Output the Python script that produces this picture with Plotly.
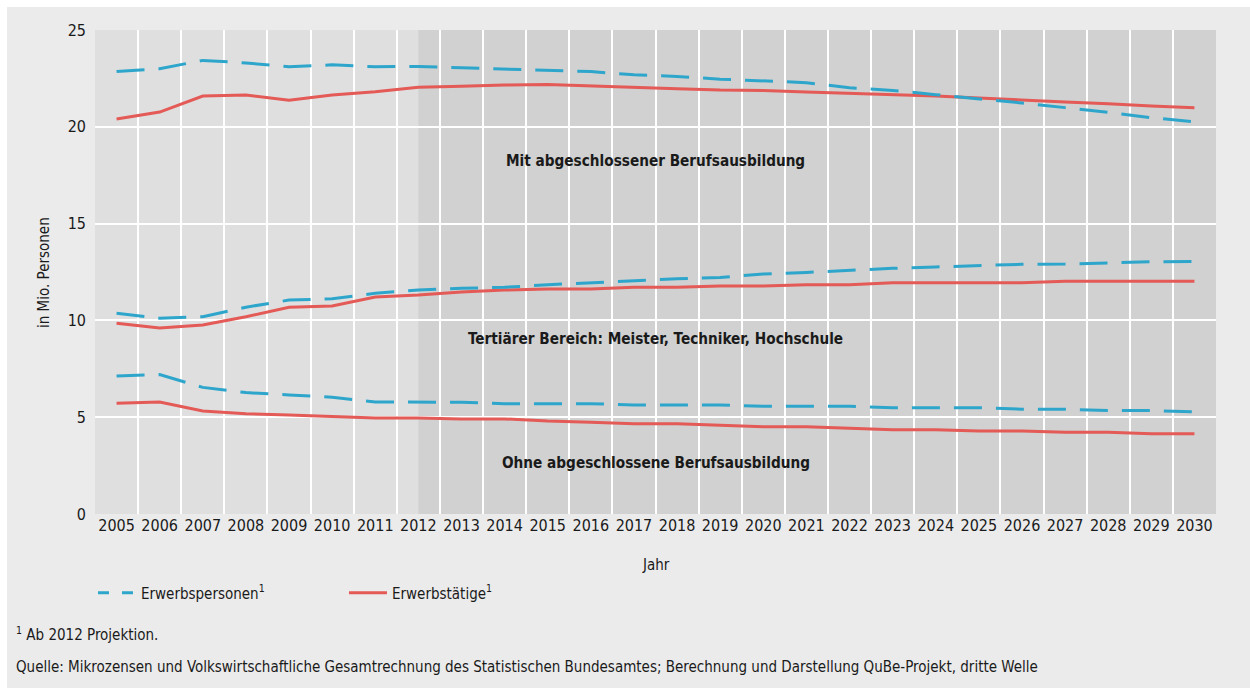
import plotly.graph_objects as go

# Jahre
jahre = list(range(2005, 2031))

# Mit abgeschlossener Berufsausbildung (Mio. Personen)
mit_erwerbspersonen = [22.85, 23.0, 23.43, 23.3, 23.1, 23.2, 23.1, 23.12, 23.05, 22.99,
                       22.9, 22.85, 22.69, 22.6, 22.46, 22.37, 22.28, 22.02, 21.88, 21.66,
                       21.45, 21.23, 20.99, 20.75, 20.47, 20.25]
mit_erwerbstaetige = [20.4, 20.76, 21.59, 21.64, 21.37, 21.64, 21.81, 22.04, 22.1, 22.16,
                      22.18, 22.12, 22.04, 21.97, 21.9, 21.88, 21.8, 21.73, 21.68, 21.59,
                      21.49, 21.37, 21.28, 21.19, 21.07, 20.99]

# Tertiärer Bereich: Meister, Techniker, Hochschule
tert_erwerbspersonen = [10.37, 10.11, 10.19, 10.68, 11.05, 11.12, 11.4, 11.57, 11.66, 11.71,
                        11.84, 11.95, 12.04, 12.15, 12.22, 12.4, 12.48, 12.6, 12.69, 12.76,
                        12.83, 12.9, 12.91, 12.98, 13.03, 13.05]
tert_erwerbstaetige = [9.85, 9.61, 9.76, 10.19, 10.68, 10.74, 11.21, 11.31, 11.47, 11.57,
                       11.62, 11.62, 11.71, 11.71, 11.78, 11.78, 11.84, 11.84, 11.95, 11.95,
                       11.95, 11.95, 12.02, 12.02, 12.02, 12.02]

# Ohne abgeschlossene Berufsausbildung
ohne_erwerbspersonen = [7.13, 7.2, 6.54, 6.27, 6.15, 6.03, 5.79, 5.79, 5.77, 5.7,
                        5.7, 5.7, 5.63, 5.63, 5.63, 5.56, 5.56, 5.56, 5.49, 5.49,
                        5.49, 5.41, 5.41, 5.34, 5.34, 5.28]
ohne_erwerbstaetige = [5.72, 5.79, 5.32, 5.18, 5.11, 5.03, 4.96, 4.96, 4.91, 4.91,
                       4.8, 4.74, 4.66, 4.66, 4.6, 4.51, 4.51, 4.44, 4.35, 4.35,
                       4.29, 4.29, 4.22, 4.22, 4.15, 4.15]

y_ticks = [0, 5, 10, 15, 20, 25]
projektion_ab = 2012

gruppen_labels = [
    ("Mit abgeschlossener Berufsausbildung", 18.25),
    ("Tertiärer Bereich: Meister, Techniker, Hochschule", 9.05),
    ("Ohne abgeschlossene Berufsausbildung", 2.65),
]

BLAU = "#2ea6cc"
ROT = "#e45a56"
FONT = "DejaVu Sans Condensed, Liberation Sans Narrow, Noto Sans, sans-serif"
TEXT = "#1a1a1a"

fig = go.Figure()

for ep, et in [(mit_erwerbspersonen, mit_erwerbstaetige),
               (tert_erwerbspersonen, tert_erwerbstaetige),
               (ohne_erwerbspersonen, ohne_erwerbstaetige)]:
    fig.add_trace(go.Scatter(x=jahre, y=et, mode="lines", showlegend=False,
                             line=dict(color=ROT, width=3)))
    fig.add_trace(go.Scatter(x=jahre, y=ep, mode="lines", showlegend=False,
                             line=dict(color=BLAU, width=3, dash="28px,14px")))

# Legendeneinträge
fig.add_trace(go.Scatter(x=[None], y=[None], mode="lines", name="Erwerbspersonen<sup>1</sup>",
                         line=dict(color=BLAU, width=3, dash="11px,13px")))
fig.add_trace(go.Scatter(x=[None], y=[None], mode="lines", name="Erwerbstätige<sup>1</sup>",
                         line=dict(color=ROT, width=3)))

# Projektionszeitraum dunkler hinterlegt
fig.add_shape(type="rect", xref="x", yref="paper", x0=projektion_ab, x1=2030.5, y0=0, y1=1,
              fillcolor="#d0d1d0", line=dict(width=0), layer="below")

# weißer Rand um die Grafik
for x0, x1, y0, y1 in [(-0.2, -0.0785, -0.5, 1.2), (-0.2, 1.2, 1.0475, 1.2), (-0.2, 1.2, -0.5, -0.3595)]:
    fig.add_shape(type="rect", xref="paper", yref="paper", x0=x0, x1=x1, y0=y0, y1=y1,
                  fillcolor="white", line=dict(width=0), layer="above")

for text, yv in gruppen_labels:
    fig.add_annotation(x=2017.5, y=yv, xref="x", yref="y", text=f"<b>{text}</b>",
                       showarrow=False, font=dict(family=FONT, size=15.2, color=TEXT))

fig.add_annotation(x=-0.0455, y=0.5, xref="paper", yref="paper", text="in Mio. Personen",
                   textangle=-90, xanchor="center", yanchor="middle", showarrow=False,
                   font=dict(family=FONT, size=15, color=TEXT))
fig.add_annotation(x=0.5, y=-0.128, xref="paper", yref="paper", text="Jahr",
                   showarrow=False, font=dict(family=FONT, size=15, color=TEXT))
fig.add_annotation(x=-0.0723, y=-0.273, xref="paper", yref="paper", xanchor="left",
                   text="<sup>1</sup> Ab 2012 Projektion.",
                   showarrow=False, font=dict(family=FONT, size=15, color=TEXT))
fig.add_annotation(x=-0.0723, y=-0.339, xref="paper", yref="paper", xanchor="left",
                   text="Quelle: Mikrozensen und Volkswirtschaftliche Gesamtrechnung des Statistischen "
                        "Bundesamtes; Berechnung und Darstellung QuBe-Projekt, dritte Welle",
                   showarrow=False, font=dict(family=FONT, size=15, color=TEXT))

fig.update_layout(
    width=1250, height=694,
    margin=dict(l=95, r=34, t=30, b=180),
    paper_bgcolor="#ebebeb",
    plot_bgcolor="#dfdfdf",
    font=dict(family=FONT, size=16, color=TEXT),
    showlegend=True,
    legend=dict(orientation="h", x=-0.0018, xanchor="left", y=-0.163, yanchor="middle",
                bgcolor="rgba(0,0,0,0)", font=dict(family=FONT, size=15, color=TEXT),
                itemwidth=38, entrywidth=198, entrywidthmode="pixels"),
    xaxis=dict(range=[2004.5, 2030.5], tickmode="array", tickvals=jahre,
               ticktext=[str(j) for j in jahre], showgrid=False, zeroline=False,
               showline=False, ticks="", fixedrange=True,
               minor=dict(tickmode="array", tickvals=[j + 0.5 for j in jahre[:-1]],
                          showgrid=True, gridcolor="white", gridwidth=1.5, ticks="")),
    yaxis=dict(range=[0, 25], tickmode="array", tickvals=y_ticks, showgrid=True,
               gridcolor="white", gridwidth=1.5, zeroline=False, showline=False,
               ticks="", ticklabelstandoff=8),
)

fig.write_html("out.html")
